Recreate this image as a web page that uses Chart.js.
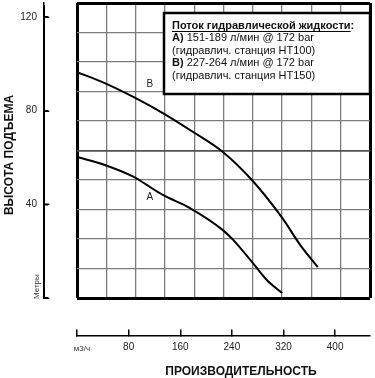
<!DOCTYPE html>
<html>
<head>
<meta charset="utf-8">
<script src="https://cdn.jsdelivr.net/npm/chart.js@4.4.1/dist/chart.umd.min.js"></script>
<style>
  html, body { margin: 0; padding: 0; background: #fff; }
  #box { width: 375px; height: 378px; }
</style>
</head>
<body>
<div id="box"><canvas id="pumpChart"></canvas></div>
<script>
// кривая A (HT100) и B (HT150): расход м3/ч -> высота подъема, м
var flowA = [0, 43, 88, 108, 133, 175, 226, 242, 271, 294, 318];
var headA = [60.2, 56.8, 51.7, 48.3, 44.0, 38.4, 29.0, 24.8, 15.4, 7.7, 2.1];
var flowB = [0, 43, 88, 133, 180, 226, 271, 318, 346, 373];
var headB = [96.5, 91.8, 85.8, 79.0, 70.9, 62.4, 50.4, 34.2, 22.6, 13.2];

var flowTicks = [0, 80, 160, 240, 320, 400];
var headTicks = [0, 40, 80, 120];
var flowMax = 454;
var headMax = 126;

var legendTitle = 'Поток гидравлической жидкости';
var legendRows = [
  ['A)', ' 151-189 л/мин @ 172 bar'],
  ['', '(гидравлич. станция HT100)'],
  ['B)', ' 227-264 л/мин @ 172 bar'],
  ['', '(гидравлич. станция HT150)']
];

var FONT = '"Liberation Sans", Arial, sans-serif';

function toPoints(xs, ys) {
  return xs.map(function (x, i) { return { x: x, y: ys[i] }; });
}
function tickList(vals) {
  return function (s) { s.ticks = vals.map(function (v) { return { value: v }; }); };
}
function noPad(s) { s.paddingTop = 0; s.paddingBottom = 0; }

function frameColor(c) {
  if (c.index === 0 || c.index === 10) return '#000';
  if (c.scale.axis === 'y' && c.index === 5) return '#505050';
  return '#7c7c7c';
}
function frameWidth(c) {
  if (c.index === 0 || c.index === 10) return 3;
  if (c.scale.axis === 'y' && c.index === 5) return 1.8;
  return 1.3;
}

var notes = {
  id: 'notes',
  afterDraw: function (chart) {
    var ctx = chart.ctx, a = chart.chartArea;
    var sx = chart.scales.x, sy = chart.scales.y, ya = chart.scales.ya;
    ctx.save();

    // ось высоты с засечками (по шкале ya)
    var ax = Math.round(ya._borderValue || sx.getPixelForValue(-51)) + 0.25;
    ctx.strokeStyle = '#000';
    ctx.lineWidth = 1.5;
    ctx.beginPath();
    ctx.moveTo(ax, a.top + 2);
    ctx.lineTo(ax, a.bottom + 0.75);
    headTicks.forEach(function (v) {
      var py = Math.round(sy.getPixelForValue(v)) + 0.25;
      ctx.moveTo(ax - 0.75, py);
      ctx.lineTo(ax + 5, py);
    });
    ctx.stroke();

    // legend box
    var bx = 164, by = 13, bw = a.right - bx, bh = 81;
    ctx.fillStyle = '#fff';
    ctx.fillRect(bx, by, bw, bh);
    ctx.lineWidth = 2.5;
    ctx.strokeRect(bx, by, bw, bh);

    var tx = 172, ty = 26, lh = 12.4;
    ctx.fillStyle = '#111';
    ctx.textBaseline = 'middle';
    ctx.textAlign = 'left';
    ctx.font = 'bold 11px ' + FONT;
    ctx.fillText(legendTitle + ':', tx, ty);
    var uw = ctx.measureText(legendTitle).width;
    ctx.lineWidth = 1;
    ctx.beginPath();
    ctx.moveTo(tx, ty + 5.5);
    ctx.lineTo(tx + uw, ty + 5.5);
    ctx.stroke();
    legendRows.forEach(function (r, i) {
      var y = ty + lh * (i + 1);
      var x = tx;
      if (r[0]) {
        ctx.font = 'bold 11px ' + FONT;
        ctx.fillText(r[0], x, y);
        x += ctx.measureText(r[0]).width;
      }
      ctx.font = '11px ' + FONT;
      ctx.fillText(r[1], x, y);
    });

    // curve names
    ctx.font = '10px ' + FONT;
    ctx.textAlign = 'center';
    ctx.fillStyle = '#222';
    ctx.fillText('A', sx.getPixelForValue(113), sy.getPixelForValue(43));
    ctx.fillText('B', sx.getPixelForValue(113), sy.getPixelForValue(91.5));

    // axis titles and units
    ctx.fillStyle = '#111';
    ctx.font = 'bold 12px ' + FONT;
    ctx.fillText('ПРОИЗВОДИТЕЛЬНОСТЬ', 241, 372);
    ctx.font = '8px ' + FONT;
    ctx.fillStyle = '#333';
    ctx.fillText('м3/ч', 82, 349);

    ctx.save();
    ctx.translate(10, 155);
    ctx.rotate(-Math.PI / 2);
    ctx.font = 'bold 12px ' + FONT;
    ctx.fillStyle = '#111';
    ctx.fillText('ВЫСОТА ПОДЪЕМА', 0, 0);
    ctx.restore();

    ctx.save();
    ctx.translate(37, 299);
    ctx.rotate(-Math.PI / 2);
    ctx.textAlign = 'left';
    ctx.font = '8px ' + FONT;
    ctx.fillStyle = '#333';
    ctx.fillText('Метры', 0, 0);
    ctx.restore();

    ctx.restore();
  }
};

var ctxP = document.getElementById('pumpChart').getContext('2d');
var pumpChart = new Chart(ctxP, {
  type: 'line',
  data: {
    datasets: [{
        label: 'A',
        data: toPoints(flowA, headA),
        borderColor: '#000',
        borderWidth: 2,
        pointRadius: 0,
        tension: 0.4,
        cubicInterpolationMode: 'monotone',
        fill: false
      },
      {
        label: 'B',
        data: toPoints(flowB, headB),
        borderColor: '#000',
        borderWidth: 2,
        pointRadius: 0,
        tension: 0.4,
        cubicInterpolationMode: 'monotone',
        fill: false
      }
    ]
  },
  options: {
    responsive: true,
    maintainAspectRatio: false,
    animation: false,
    layout: { padding: { left: 77, right: 5, top: 3, bottom: 80 } },
    plugins: { legend: { display: false }, tooltip: { enabled: false } },
    scales: {
      x: {
        type: 'linear', position: 'bottom', min: 0, max: flowMax,
        ticks: { display: false, count: 11 },
        grid: { drawTicks: false, color: frameColor, lineWidth: frameWidth },
        border: { display: false }
      },
      y: {
        type: 'linear', position: 'left', min: 0, max: headMax,
        ticks: { display: false, count: 11 },
        grid: { drawTicks: false, color: frameColor, lineWidth: frameWidth },
        border: { display: false }
      },
      xl: {
        type: 'linear', axis: 'x', position: { y: -16.2 }, min: 0, max: flowMax,
        afterBuildTicks: tickList(flowTicks),
        ticks: {
          autoSkip: false, maxRotation: 0, padding: 12, color: '#222',
          font: { family: FONT, size: 10 },
          callback: function (v) { return v === 0 ? '' : String(v); }
        },
        grid: { drawOnChartArea: false, tickLength: -7, color: '#000', lineWidth: 1.5 },
        border: { color: '#000', width: 1.5 }
      },
      // линия оси высоты с засечками
      ya: {
        type: 'linear', axis: 'y', position: { x: -51 }, min: 0, max: headMax,
        afterBuildTicks: tickList(headTicks),
        ticks: {
          autoSkip: false, padding: 0, color: 'rgba(0,0,0,0)',
          font: { family: FONT, size: 1 },
          callback: function () { return ''; }
        },
        grid: { drawOnChartArea: false, tickLength: -5, color: '#000', lineWidth: 1.5 },
        border: { color: '#000', width: 1.5 }
      },
      // подписи оси высоты
      yl: {
        type: 'linear', axis: 'y', position: { x: -62 }, min: 0, max: headMax,
        afterBuildTicks: tickList(headTicks),
        afterFit: noPad,
        ticks: {
          autoSkip: false, padding: 0, color: '#222',
          font: { family: FONT, size: 10 },
          callback: function (v) { return v === 0 ? '' : String(v); }
        },
        grid: { display: false },
        border: { display: false }
      }
    }
  },
  plugins: [notes]
});
</script>
</body>
</html>
